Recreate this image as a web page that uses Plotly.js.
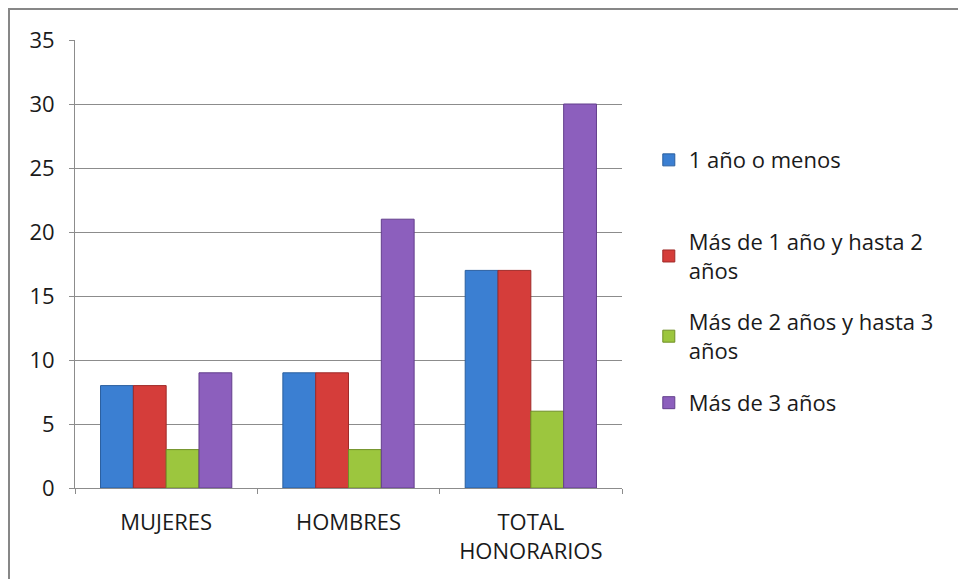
<!DOCTYPE html>
<html>
<head>
<meta charset="utf-8">
<script src="https://cdn.plot.ly/plotly-3.0.1.min.js"></script>
<style>
  html, body { margin: 0; padding: 0; background: #fff; }
  #wrap { position: relative; width: 958px; height: 579px; overflow: hidden; }
  #frame { position: absolute; left: 8px; top: 8px; width: 960px; height: 590px; border-left: 2px solid #878787; border-top: 2px solid #878787; pointer-events: none; }
  #chart { position: absolute; left: 0; top: 0; width: 958px; height: 579px; }
</style>
</head>
<body>
<div id="wrap">
  <div id="chart"></div>
  <div id="frame"></div>
</div>
<script>
const categories = ["MUJERES", "HOMBRES", "TOTAL<br>HONORARIOS"];
const seriesNames = [
  "1 año o menos",
  "Más de 1 año y hasta 2<br>años",
  "Más de 2 años y hasta 3<br>años",
  "Más de 3 años"
];
const unoOMenos = [8, 9, 17];
const unoADos = [8, 9, 17];
const dosATres = [3, 3, 6];
const masDeTres = [9, 21, 30];
const yTicks = [0, 5, 10, 15, 20, 25, 30, 35];

const values = [unoOMenos, unoADos, dosATres, masDeTres];
const colors = ["#3b7fd2", "#d53d3a", "#9cc63e", "#8c5fbd"];
const lines = ["#2a5f9f", "#9f2a28", "#6f8f26", "#633f8c"];
const legendIds = ["legend", "legend2", "legend3", "legend4"];

const font = "'Open Sans', sans-serif";

const data = values.map((v, i) => ({
  type: "bar",
  name: seriesNames[i],
  x: categories,
  y: v,
  marker: { color: colors[i], line: { color: lines[i], width: 1 } },
  legend: legendIds[i],
  hoverinfo: "skip"
}));

const legendBase = {
  x: 1.049, xanchor: "left", yanchor: "middle",
  bgcolor: "rgba(0,0,0,0)",
  font: { family: font, size: 22, color: "#1a1a1a" }
};

const layout = {
  width: 958, height: 579,
  margin: { l: 75, r: 336, t: 40, b: 91 },
  paper_bgcolor: "rgba(0,0,0,0)",
  plot_bgcolor: "#fff",
  barmode: "group",
  bargap: 0.28,
  bargroupgap: 0,
  showlegend: true,
  legend: Object.assign({}, legendBase, { y: 0.732 }),
  legend2: Object.assign({}, legendBase, { y: 0.517 }),
  legend3: Object.assign({}, legendBase, { y: 0.338 }),
  legend4: Object.assign({}, legendBase, { y: 0.190 }),
  font: { family: font, color: "#1a1a1a" },
  xaxis: {
    type: "category",
    showline: true, linecolor: "#8c8c8c", linewidth: 1,
    ticks: "outside", tickson: "boundaries", ticklen: 5, tickcolor: "#8c8c8c",
    tickfont: { family: font, size: 22, color: "#1a1a1a" },
    ticklabelstandoff: 15,
    showgrid: false, zeroline: false
  },
  yaxis: {
    range: [0, 35],
    tickvals: yTicks,
    ticktext: yTicks.map(String),
    showline: true, linecolor: "#8c8c8c", linewidth: 1,
    ticks: "outside", ticklen: 5, tickcolor: "#8c8c8c",
    tickfont: { family: font, size: 22, color: "#1a1a1a" },
    ticklabelstandoff: 10,
    showgrid: true, gridcolor: "#8c8c8c", gridwidth: 1,
    zeroline: false
  }
};

Plotly.newPlot("chart", data, layout, { displayModeBar: false, staticPlot: true });
</script>
</body>
</html>
